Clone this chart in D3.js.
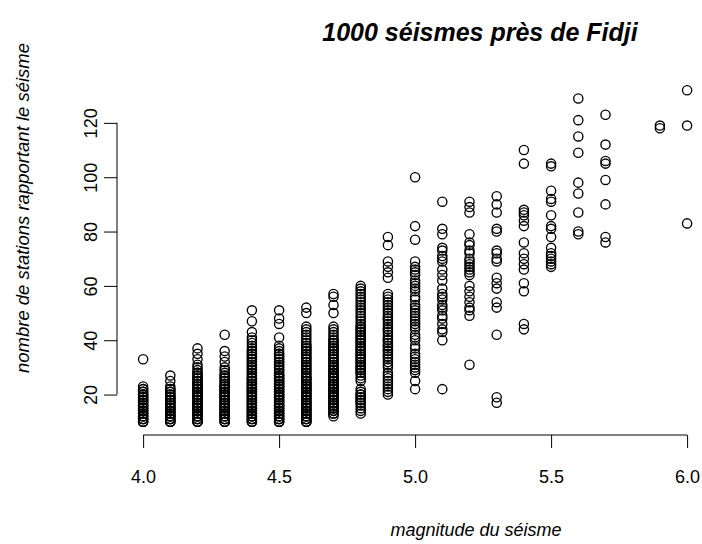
<!DOCTYPE html>
<html>
<head>
<meta charset="utf-8">
<script src="https://d3js.org/d3.v7.min.js"></script>
<style>
  body { margin: 0; background: #fff; }
  text { font-family: "Liberation Sans", Arial, sans-serif; fill: #000; }
</style>
</head>
<body>
<script>
// magnitude levels and the station counts (one list per level,
// repeated values where the column is packed)
var magnitudes = [4.0, 4.1, 4.2, 4.3, 4.4, 4.5, 4.6, 4.7, 4.8, 4.9, 5.0, 5.1, 5.2, 5.3, 5.4, 5.5, 5.6, 5.7, 5.9, 6.0];
var stations = [
  [10,10,10,11,11,11,12,12,12,13,13,13,14,14,14,15,15,15,16,16,16,17,17,17,18,18,18,19,19,19,20,20,20,21,21,22,22,23,33],
  [10,10,10,11,11,11,12,12,12,13,13,13,14,14,14,15,15,15,16,16,16,17,17,17,18,18,18,19,19,19,20,20,21,21,22,22,23,25,27],
  [10,10,10,11,11,11,12,12,12,13,13,13,14,14,14,15,15,15,16,16,16,17,17,17,18,18,18,19,19,19,20,20,20,21,21,21,22,22,22,23,23,23,24,24,24,25,25,26,26,27,27,28,28,29,30,31,33,35,37],
  [10,10,10,11,11,11,12,12,12,13,13,13,14,14,14,15,15,15,16,16,16,17,17,17,18,18,18,19,19,19,20,20,20,21,21,21,22,22,22,23,23,23,24,24,25,25,26,26,27,27,28,29,30,32,34,36,42],
  [10,10,10,11,11,11,12,12,12,13,13,13,14,14,14,15,15,15,16,16,16,17,17,17,18,18,18,19,19,19,20,20,20,21,21,21,22,22,22,23,23,23,24,24,24,25,25,25,26,26,26,27,27,28,28,29,29,30,30,31,31,32,32,33,33,34,34,35,35,36,36,37,38,39,40,41,43,47,51],
  [10,10,10,11,11,11,12,12,12,13,13,13,14,14,14,15,15,15,16,16,16,17,17,17,18,18,18,19,19,19,20,20,20,21,21,21,22,22,22,23,23,23,24,24,24,25,25,25,26,26,26,27,27,27,28,28,29,29,30,30,31,31,32,32,33,33,34,34,35,35,36,37,38,41,46,48,51],
  [10,10,10,11,11,11,12,12,12,13,13,13,14,14,14,15,15,15,16,16,16,17,17,17,18,18,18,19,19,19,20,20,20,21,21,21,22,22,22,23,23,23,24,24,24,25,25,25,26,26,26,27,27,28,28,29,29,30,30,31,31,32,32,33,33,34,34,35,35,36,36,37,37,38,38,39,40,41,42,43,44,45,50,52],
  [12,13,13,14,14,15,15,15,16,16,16,17,17,17,18,18,18,19,19,19,20,20,20,21,21,21,22,22,22,23,23,23,24,24,24,25,25,25,26,26,26,27,27,27,28,28,28,29,29,30,30,31,31,32,32,33,33,34,34,35,35,36,36,37,37,38,38,39,39,40,40,41,42,43,44,45,50,53,56,57],
  [13,14,15,16,17,17,18,18,19,19,20,20,21,22,25,26,27,28,28,29,29,30,30,31,31,32,32,33,33,34,34,35,35,36,36,37,37,38,38,39,39,40,40,41,41,42,42,43,43,44,44,45,45,46,47,48,49,50,51,52,53,54,55,56,57,58,59,60],
  [20,21,22,23,24,25,26,27,28,30,31,32,33,34,34,35,36,36,37,38,38,39,40,40,41,42,43,44,44,45,46,47,48,48,49,50,51,52,53,54,55,56,57,63,65,67,69,75,78],
  [22,25,28,29,30,31,32,33,34,35,37,38,40,41,42,44,45,46,47,48,49,50,51,52,53,55,56,58,59,60,61,62,64,65,66,67,69,77,82,100],
  [22,40,43,44,46,48,49,51,52,53,55,56,57,59,62,64,66,69,70,71,73,74,79,81,91],
  [31,49,51,52,54,56,58,60,64,65,66,67,68,69,70,72,73,75,76,79,87,89,91],
  [17,19,42,52,54,59,61,63,69,70,72,73,80,81,87,90,93],
  [44,46,58,61,66,68,70,72,76,82,84,86,87,88,105,110],
  [67,68,69,70,71,72,74,78,81,82,86,91,92,95,104,105],
  [79,80,87,94,98,109,115,121,129],
  [76,78,90,99,105,106,112,123],
  [118,119],
  [83,119,132]
];
var xTicks = [4.0, 4.5, 5.0, 5.5, 6.0];
var yTicks = [20, 40, 60, 80, 100, 120];

var width = 702, height = 544;

var svg = d3.select("body").append("svg")
    .attr("width", width)
    .attr("height", height);

// plot region (extends past the right edge of the picture)
var x = d3.scaleLinear().domain([3.904, 6.496]).range([117, 822]);
var y = d3.scaleLinear().domain([5.12, 136.88]).range([435, 77]);

var points = [];
magnitudes.forEach(function (m, i) {
  stations[i].forEach(function (s) { points.push({mag: m, st: s}); });
});

svg.append("g")
  .selectAll("circle")
  .data(points)
  .enter()
  .append("circle")
    .attr("cx", function (d) { return x(d.mag); })
    .attr("cy", function (d) { return y(d.st); })
    .attr("r", 4.6)
    .style("fill", "none")
    .style("stroke", "#000")
    .style("stroke-width", 1.35);

// x axis
var xAxis = svg.append("g")
    .attr("transform", "translate(0," + y(5.12) + ")")
    .call(d3.axisBottom(x).tickValues(xTicks).tickSize(13).tickPadding(0)
      .tickFormat(d3.format(".1f")));
xAxis.select(".domain").remove();
xAxis.append("line")
    .attr("x1", x(xTicks[0])).attr("x2", x(xTicks[xTicks.length - 1]))
    .attr("stroke", "#000");
xAxis.selectAll(".tick line").attr("stroke", "#000");
xAxis.selectAll(".tick text")
    .attr("y", 48).attr("dy", 0)
    .style("font-size", "18px")
    .style("font-family", "'Liberation Sans', Arial, sans-serif");

// y axis, labels parallel to the axis
var yAxis = svg.append("g")
    .attr("transform", "translate(" + x(3.904) + ",0)")
    .call(d3.axisLeft(y).tickValues(yTicks).tickSize(13));
yAxis.select(".domain").remove();
yAxis.append("line")
    .attr("y1", y(yTicks[0])).attr("y2", y(yTicks[yTicks.length - 1]))
    .attr("stroke", "#000");
yAxis.selectAll(".tick line").attr("stroke", "#000");
yAxis.selectAll(".tick text")
    .attr("x", 0).attr("dy", 0)
    .attr("transform", "translate(-20,0) rotate(-90)")
    .style("text-anchor", "middle")
    .style("font-size", "18px")
    .style("font-family", "'Liberation Sans', Arial, sans-serif");

// titles
svg.append("text")
    .attr("x", 480).attr("y", 41)
    .style("text-anchor", "middle")
    .style("font-size", "25px")
    .style("font-weight", "bold")
    .style("font-style", "italic")
    .text("1000 séismes près de Fidji");

svg.append("text")
    .attr("x", 476).attr("y", 536)
    .style("text-anchor", "middle")
    .style("font-size", "18px")
    .style("font-style", "italic")
    .text("magnitude du séisme");

svg.append("text")
    .attr("transform", "translate(29,208) rotate(-90)")
    .style("text-anchor", "middle")
    .style("font-size", "18.5px")
    .style("font-style", "italic")
    .text("nombre de stations rapportant le séisme");
</script>
</body>
</html>
